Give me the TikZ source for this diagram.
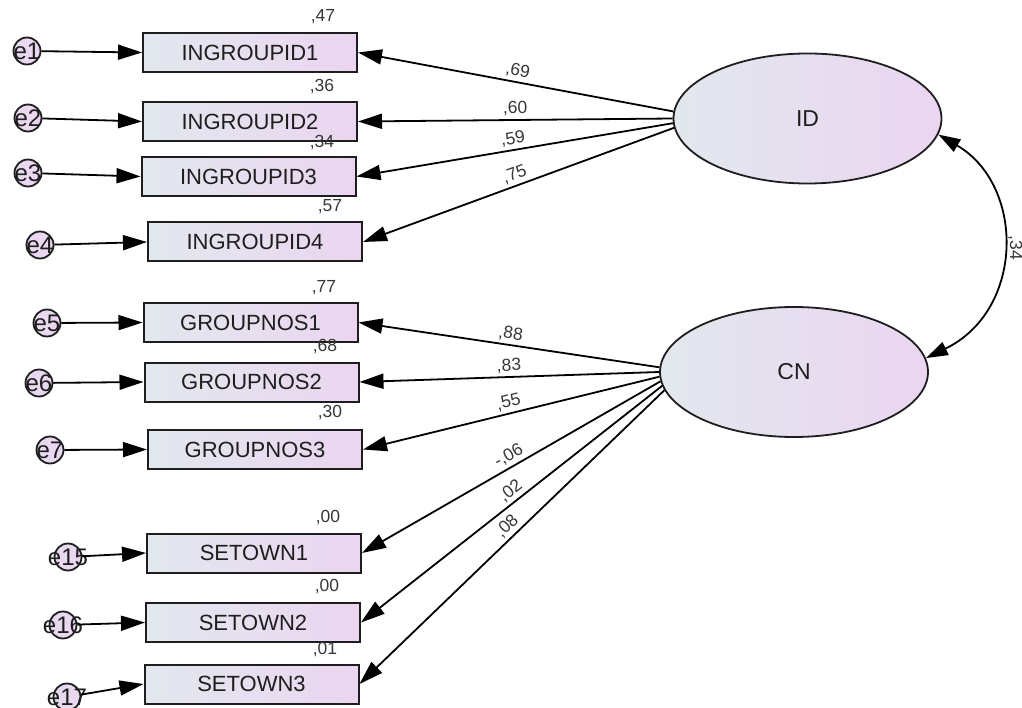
\documentclass[tikz,border=0pt]{standalone}
\usepackage{fontspec}
\setmainfont{Liberation Sans}
\usetikzlibrary{arrows.meta,shapes.geometric}

\definecolor{shadeL}{RGB}{226,232,238}
\definecolor{shadeR}{RGB}{235,213,240}
\definecolor{edgegray}{RGB}{30,30,30}
\definecolor{numgray}{RGB}{55,55,55}

\tikzset{
  obs/.style={draw=edgegray, line width=2pt, left color=shadeL, right color=shadeR,
    minimum width=214pt, minimum height=39pt, inner sep=0pt,
    font=\fontsize{22}{24}\selectfont, text=edgegray},
  lat/.style={ellipse, draw=edgegray, line width=1.8pt, left color=shadeL, right color=shadeR,
    minimum width=268pt, minimum height=130pt, inner sep=0pt,
    font=\fontsize{23}{25}\selectfont, text=edgegray},
  err/.style={circle, draw=edgegray, line width=1.8pt, left color=shadeL!30!shadeR,
    right color=shadeR, minimum size=27pt, inner sep=0pt},
  errtxt/.style={font=\fontsize{24}{26}\selectfont, text=edgegray, inner sep=0pt},
  val/.style={font=\fontsize{17.5}{19}\selectfont, text=numgray, inner sep=0pt},
  lab/.style={val, sloped, above=3pt},
  load/.style={line width=1.8pt, -{Triangle[length=24pt,width=15pt]}},
  cov/.style={line width=1.8pt, {Triangle[length=22pt,width=14pt]}-{Triangle[length=22pt,width=14pt]}},
}

\begin{document}
\begin{tikzpicture}[x=1pt,y=-1pt]
\useasboundingbox (0,0) rectangle (1022,708);

% latent variables
\node[lat] (ID) at (807.5,118.5) {ID};
\node[lat] (CN) at (794,372) {CN};

% observed indicators
\node[obs] (b1)  at (250,52.5)  {INGROUPID1};
\node[obs] (b2)  at (250,121.5) {INGROUPID2};
\node[obs] (b3)  at (248.5,176.5) {INGROUPID3};
\node[obs] (b4)  at (255,242)   {INGROUPID4};
\node[obs] (b5)  at (250.5,322.5) {GROUPNOS1};
\node[obs] (b6)  at (251.5,382) {GROUPNOS2};
\node[obs] (b7)  at (255,449.5) {GROUPNOS3};
\node[obs] (b8)  at (254,553)   {SETOWN1};
\node[obs] (b9)  at (253,622.5) {SETOWN2};
\node[obs] (b10) at (251.5,684) {SETOWN3};

% error terms
\node[err, label={[errtxt]center:e1}]  (e1)  at (27,51)  {};
\node[err, label={[errtxt]center:e2}]  (e2)  at (28,118) {};
\node[err, label={[errtxt]center:e3}]  (e3)  at (28,173) {};
\node[err, label={[errtxt]center:e4}]  (e4)  at (40,245) {};
\node[err, label={[errtxt]center:e5}]  (e5)  at (47,323) {};
\node[err, label={[errtxt]center:e6}]  (e6)  at (39,383) {};
\node[err, label={[errtxt]center:e7}]  (e7)  at (50,450) {};
\node[err, label={[errtxt]center:e15}] (e15) at (68,557) {};
\node[err, label={[errtxt]center:e16}] (e16) at (63,625) {};
\node[err, label={[errtxt]center:e17}] (e17) at (67,697) {};

% error paths
\foreach \e/\b in {e1/b1,e2/b2,e3/b3,e4/b4,e5/b5,e6/b6,e7/b7,e15/b8,e16/b9,e17/b10}
  \draw[load] (\e) -- (\b.west);

% loadings of ID
\draw[load] (ID.177) -- node[lab] {,69} (b1.east);
\draw[load] (ID.180) -- node[lab] {,60} (b2.east);
\draw[load] (ID.182) -- node[lab] {,59} (b3.east);
\draw[load] (ID.184) -- node[lab] {,75} (b4.east);

% loadings of CN
\draw[load] (CN.178) -- node[lab] {,88} (b5.east);
\draw[load] (CN.180) -- node[lab] {,83} (b6.east);
\draw[load] (CN.182) -- node[lab] {,55} (b7.east);
\draw[load] (CN.184) -- node[lab, pos=0.49] {-,06} (b8.east);
\draw[load] (CN.186) -- node[lab, pos=0.48] {,02} (b9.east);
\draw[load] (CN.188) -- node[lab, pos=0.49] {,08} (b10.east);

% factor covariance
\draw[cov] (ID.-7) .. controls (1025,185) and (1025,310) .. (CN.6);
\node[val, rotate=-90] (r34) at (1015,248) {,34};

% squared multiple correlations
\node[val] (s1)  at (323,17)  {,47};
\node[val] (s2)  at (322,87)  {,36};
\node[val] (s3)  at (322,143) {,34};
\node[val] (s4)  at (330,207) {,57};
\node[val] (s5)  at (324,288) {,77};
\node[val] (s6)  at (325,347) {,68};
\node[val] (s7)  at (330,413) {,30};
\node[val] (s8)  at (328,518) {,00};
\node[val] (s9)  at (327,587) {,00};
\node[val] (s10) at (325,650) {,01};
\end{tikzpicture}
\end{document}
